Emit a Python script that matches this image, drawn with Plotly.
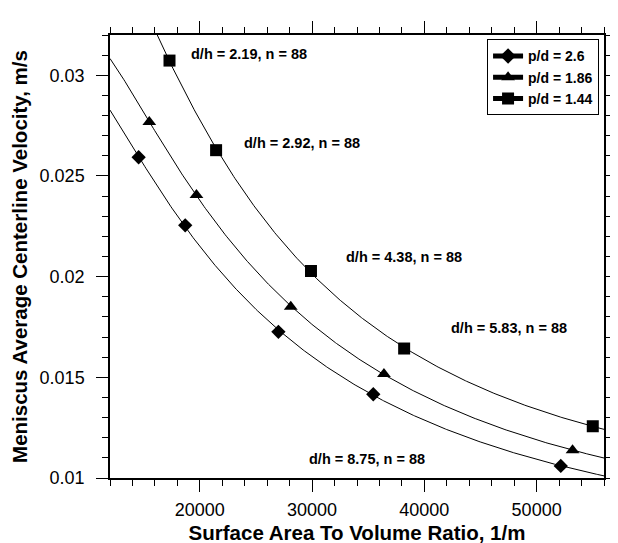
import numpy as np
import plotly.graph_objects as go

# Data
series_names = ["p/d = 2.6", "p/d = 1.86", "p/d = 1.44"]
x_pd26 = [14550, 18700, 27000, 35450, 52150]
y_pd26 = [0.02593, 0.02255, 0.01726, 0.01416, 0.0106]
x_pd186 = [15500, 19700, 28100, 36400, 53200]
y_pd186 = [0.02768, 0.02406, 0.0185, 0.01516, 0.01138]
x_pd144 = [17300, 21450, 29900, 38200, 55000]
y_pd144 = [0.03073, 0.02628, 0.02028, 0.01643, 0.01257]

label_texts = ["d/h = 2.19, n = 88", "d/h = 2.92, n = 88", "d/h = 4.38, n = 88",
               "d/h = 5.83, n = 88", "d/h = 8.75, n = 88"]
label_x = [24370, 29110, 38190, 47530, 34916]
label_y = [0.03105, 0.02663, 0.02096, 0.01744, 0.01092]

x_range = [12000, 56000]
y_range = [0.01, 0.032]

FONT = "Liberation Sans, Arial, Helvetica, sans-serif"
symbols = ["diamond", "triangle-up", "square"]
sizes = [11, 12, 12]

fig = go.Figure()
xs_fit = np.linspace(x_range[0], x_range[1], 400)
for name, xv, yv, sym, sz in zip(series_names,
                                 [x_pd26, x_pd186, x_pd144],
                                 [y_pd26, y_pd186, y_pd144], symbols, sizes):
    c = np.polyfit(np.log(xv), np.log(yv), 3)
    ys_fit = np.exp(np.polyval(c, np.log(xs_fit)))
    fig.add_trace(go.Scatter(x=xs_fit, y=ys_fit, mode="lines",
                             line=dict(color="black", width=1),
                             showlegend=False, hoverinfo="skip"))
    fig.add_trace(go.Scatter(x=xv, y=yv, mode="markers",
                             marker=dict(symbol=sym, size=sz, color="black"),
                             showlegend=False))
    fig.add_trace(go.Scatter(x=[None], y=[None], mode="lines+markers", name=name,
                             line=dict(color="black", width=1),
                             marker=dict(symbol=sym, size=sz, color="black")))

for t, lx, ly in zip(label_texts, label_x, label_y):
    fig.add_annotation(x=lx, y=ly, text="<b>%s</b>" % t, showarrow=False,
                       font=dict(family=FONT, size=14.5, color="black"))

axis_common = dict(showline=True, linecolor="black", linewidth=1.5, mirror="ticks",
                   ticks="outside", ticklen=12, tickwidth=1.2, tickcolor="black",
                   showgrid=False, zeroline=False, automargin=False,
                   tickfont=dict(family=FONT, size=18, color="black"))

x_minor = dict(ticks="outside", ticklen=6, dtick=2000, tick0=0,
               tickcolor="black", tickwidth=1, showgrid=False)
y_minor = dict(ticks="outside", ticklen=6, dtick=0.001, tick0=0.01,
               tickcolor="black", tickwidth=1, showgrid=False)

fig.update_layout(
    xaxis=dict(range=x_range, tick0=0, dtick=10000, tickformat="d", minor=x_minor,
               title=dict(text="<b>Surface Area To Volume Ratio, 1/m</b>",
                          font=dict(family=FONT, size=20.5, color="black"), standoff=6),
               ticklabelstandoff=3, **axis_common),
    yaxis=dict(range=y_range, tick0=0.01, dtick=0.005, minor=y_minor,
               title=dict(text="<b>Meniscus Average Centerline Velocity, m/s</b>",
                          font=dict(family=FONT, size=20.5, color="black"), standoff=16),
               ticklabelstandoff=8, **axis_common),
)

fig.update_layout(width=618, height=543, plot_bgcolor="white", paper_bgcolor="white",
                  margin=dict(l=102, r=22, t=27, b=73),
                  font=dict(family=FONT, color="black"),
                  legend=dict(x=0.99, y=0.99, xanchor="right", yanchor="top",
                              bordercolor="black", borderwidth=1, bgcolor="white",
                              itemsizing="constant", tracegroupgap=0,
                              font=dict(family=FONT, size=14, color="black", weight="bold")))

fig.write_html("out.html")
